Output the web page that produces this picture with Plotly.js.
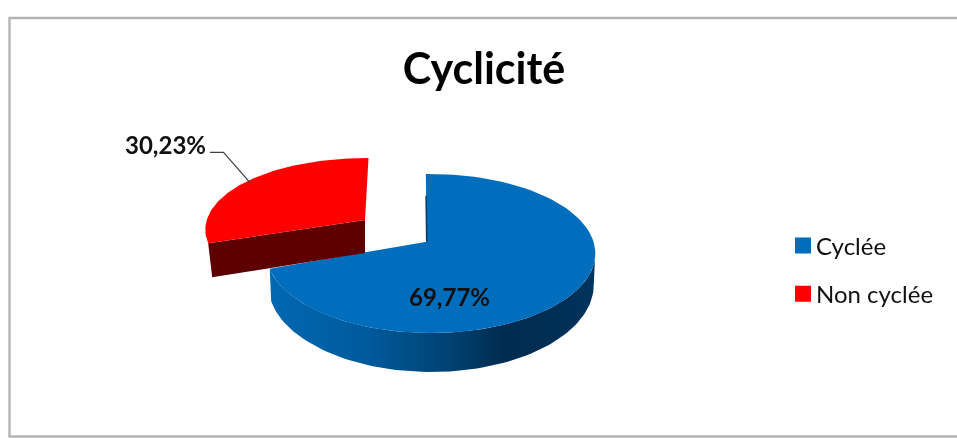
<!DOCTYPE html>
<html>
<head>
<meta charset="utf-8">
<script src="https://cdn.plot.ly/plotly-3.0.0.min.js"></script>
<style>html,body{margin:0;padding:0;background:#fff}#c{width:957px;height:438px;filter:blur(0.4px)}</style>
</head>
<body>
<div id="c"></div>
<script>
const categories = ["Cyclée", "Non cyclée"];
const values = [69.77, 30.23];
const colors = ["#006DBD", "#FF0000"];
const chartTitle = "Cyclicité";
const fmt = v => v.toFixed(2).replace(".", ",") + "%";

// projection of the pie disc on the page
const startAngle = -2.1, persp = 0.1485, tuck = 1.6;
const total = values[0] + values[1];
const split = startAngle + 360 * values[0] / total;
const rad = d => d * Math.PI / 180;
function rim(v, a) {
  const X = Math.sin(rad(a)), Y = Math.cos(rad(a)), w = 1 + persp * Y;
  const y = v.ay - v.B * Y / w;
  const dx = v.A * X / w;
  return [v.ax + dx + (v.shear || 0) * (y - v.ay), y + (v.tilt || 0) * dx];
}
function arc(v, a0, a1) {
  const out = [], n = 90;
  for (let i = 0; i <= n; i++) out.push(rim(v, a0 + (a1 - a0) * i / n));
  return out;
}
const blueTop = {ax: 431, ay: 241.7, A: 162.5, B: 77.7};
const blueBottom = {ax: 431, ay: 271.7, A: 161, B: 85.4};
const blueApex = [426.7, 241.7];
const redTop = {ax: 369, ay: 220, A: 161, B: 71, shear: -0.075, tilt: 0.022};
const redApex = [365, 220];

const poly = pts => ({x: pts.map(p => p[0]), y: pts.map(p => p[1])});
const area = (pts, extra) => Object.assign(poly(pts), {
  type: "scatter", mode: "lines", fill: "toself", line: {width: 0},
  hoverinfo: "skip", showlegend: false
}, extra);

const blueEnd = split + tuck;
const wallTop = arc(blueTop, 98, blueEnd);
const wallBottom = arc(blueBottom, blueEnd, 98);
const blueEdge = rim(blueTop, startAngle);
const redEnd = rim(redTop, split);

const traces = [
  area(wallTop.concat(wallBottom), {
    fillcolor: "#00497f",
    fillgradient: {type: "horizontal", colorscale: [
      [0, "#0068b2"], [0.3, "#005a9c"], [0.55, "#004272"], [0.72, "#002c50"], [0.9, "#002f55"], [1, "#00355f"]
    ]}
  }),
  area(arc(blueTop, startAngle, blueEnd).concat([blueApex]), {fillcolor: colors[0]}),
  {
    x: [blueApex[0] + (blueEdge[0] - blueApex[0]) * 0.68, blueApex[0]],
    y: [blueApex[1] + (blueEdge[1] - blueApex[1]) * 0.68, blueApex[1]],
    type: "scatter", mode: "lines", line: {color: "#0b3a63", width: 1.5},
    hoverinfo: "skip", showlegend: false
  },
  area([redEnd, redApex, [redApex[0], redApex[1] + 33], [redEnd[0] + 4, redEnd[1] + 34]], {fillcolor: "#5C0000"}),
  area(arc(redTop, split, 360 + startAngle).concat([redApex]), {fillcolor: colors[1]}),
  {
    x: [210, 223.5, 250], y: [152.3, 152.3, 182.7],
    type: "scatter", mode: "lines", line: {color: "#404040", width: 1.2},
    hoverinfo: "skip", showlegend: false
  }
];
categories.forEach((name, i) => traces.push({
  x: [null], y: [null], type: "scatter", mode: "markers", name,
  legendgroup: name, showlegend: true,
  marker: {symbol: "square", size: 16, color: colors[i]}
}));

const hidden = {visible: false, fixedrange: true, showgrid: false, zeroline: false};
const layout = {
  width: 957, height: 438,
  margin: {l: 0, r: 0, t: 0, b: 0},
  paper_bgcolor: "#fff", plot_bgcolor: "#fff",
  font: {family: "Lato, sans-serif", color: "#000"},
  xaxis: Object.assign({range: [0, 957]}, hidden),
  yaxis: Object.assign({range: [438, 0]}, hidden),
  showlegend: true,
  legend: {
    x: 776 / 957, xanchor: "left", y: 1 - 223.5 / 438, yanchor: "top",
    font: {family: "Lato, sans-serif", size: 24, color: "#111"},
    tracegroupgap: 14, bgcolor: "rgba(0,0,0,0)", itemclick: false, itemdoubleclick: false
  },
  title: {
    text: "<b>" + chartTitle + "</b>",
    font: {family: "Lato, sans-serif", size: 43, color: "#000"},
    x: 484 / 957, xanchor: "center", y: 1 - 69 / 438, yanchor: "middle"
  },
  shapes: [{
    type: "rect", xref: "x", yref: "y", x0: 9.5, x1: 1000, y0: 18, y1: 436.5,
    line: {color: "#b4b4b4", width: 2.4}, layer: "below"
  }],
  annotations: [
    {x: 449, y: 296.5, xref: "x", yref: "y", showarrow: false,
     text: "<b>" + fmt(values[0]) + "</b>", font: {family: "Lato, sans-serif", size: 24, color: "#111"}},
    {x: 165, y: 144.5, xref: "x", yref: "y", showarrow: false,
     text: "<b>" + fmt(values[1]) + "</b>", font: {family: "Lato, sans-serif", size: 24, color: "#111"}}
  ]
};
Plotly.newPlot("c", traces, layout, {displayModeBar: false, staticPlot: true}).then(gd => {
  // bring the legend swatches next to their labels
  gd.querySelectorAll(".legend .legendsymbols").forEach(g => g.setAttribute("transform", "translate(7,0)"));
});
</script>
</body>
</html>
